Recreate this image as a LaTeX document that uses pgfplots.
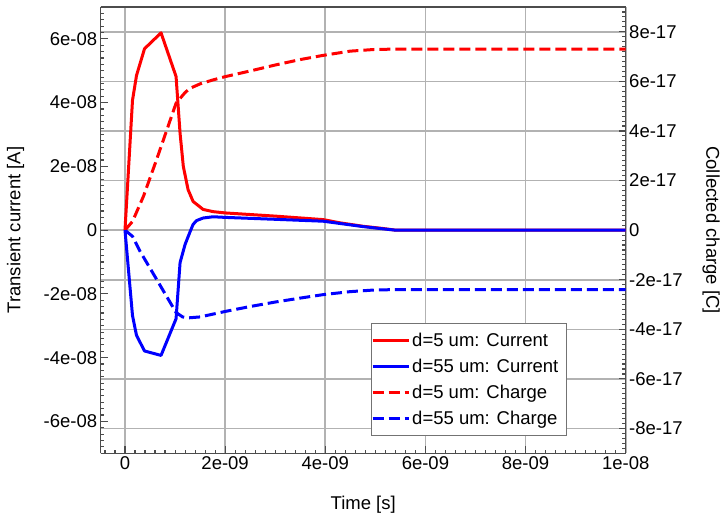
\documentclass[border=0pt]{standalone}
\usepackage{fontspec}
\setmainfont{Liberation Sans}
\usepackage{pgfplots}
\pgfplotsset{compat=1.18}
\begin{document}
\begin{tikzpicture}[font=\fontsize{18.5}{22}\selectfont]
\useasboundingbox (-100.7pt,-64.7pt) rectangle (626.3pt,453.3pt);
\pgfplotsset{
  common/.style={
    width=525pt, height=446.3pt, scale only axis,
    xmin=-0.485e-9, xmax=1e-8,
    scaled x ticks=false, scaled y ticks=false,
    axis line style={black!70, line width=1.1pt},
    tick style={black!70, line width=1.1pt},
    major tick length=7pt, minor tick length=3.5pt,
    tick align=inside, minor tick num=9,
    every tick label/.append style={font=\fontsize{18.5}{22}\selectfont},
    curve/.style={line width=3pt, line join=round},
  },
}
% Right axis: collected charge (values in C, shown in units of 1e-17 C internally)
\begin{axis}[common,
  axis y line*=right,
  y filter/.expression={y*1e17},
  ymin=-9, ymax=9,
  xtick={0,2e-9,4e-9,6e-9,8e-9,1e-8},
  xticklabels={0,2e-09,4e-09,6e-09,8e-09,1e-08},
  xtick pos=left,
  extra x ticks={-4e-10,-2e-10},
  extra x tick labels={},
  extra x tick style={major tick length=3.5pt, grid=none},
  ytick={-8,-6,-4,-2,0,2,4,6,8},
  yticklabels={-8e-17,-6e-17,-4e-17,-2e-17,0,2e-17,4e-17,6e-17,8e-17},
  extra y ticks={-9,-8.8,-8.6,-8.4,-8.2,8.2,8.4,8.6,8.8,9},
  extra y tick labels={},
  extra y tick style={major tick length=3.5pt, grid=none},
  xmajorgrids, ymajorgrids,
  grid style={black!30, line width=1.6pt},
  xlabel={Time [s]},
  ylabel={Collected charge [C]},
  every axis x label/.style={at={(axis description cs:0.5,-0.127)}, anchor=base},
  every axis y label/.style={at={(axis description cs:1.1796,0.5)}, rotate=-90, anchor=north, inner sep=0pt},
]
\addplot[curve, red, dash pattern=on 11pt off 5pt] coordinates {
(0,0) (0.15e-9,0.35e-17) (0.37e-9,1.37e-17) (0.63e-9,2.84e-17) (1.02e-9,5.12e-17)
(1.2e-9,5.55e-17) (1.3e-9,5.72e-17) (1.5e-9,5.9e-17) (1.76e-9,6.06e-17) (2.0e-9,6.19e-17)
(2.5e-9,6.42e-17) (3.0e-9,6.66e-17) (3.5e-9,6.88e-17) (3.96e-9,7.05e-17) (4.5e-9,7.22e-17)
(5.0e-9,7.29e-17) (5.4e-9,7.30e-17) (1e-8,7.30e-17)};
\addplot[curve, blue, dash pattern=on 11pt off 5pt] coordinates {
(0,0) (0.15e-9,-0.25e-17) (0.3e-9,-0.85e-17) (0.63e-9,-1.98e-17) (1.02e-9,-3.32e-17)
(1.15e-9,-3.5e-17) (1.25e-9,-3.54e-17) (1.5e-9,-3.5e-17) (2.0e-9,-3.28e-17) (2.5e-9,-3.08e-17)
(3.0e-9,-2.9e-17) (3.5e-9,-2.74e-17) (3.96e-9,-2.6e-17) (4.5e-9,-2.48e-17) (5.0e-9,-2.41e-17)
(5.4e-9,-2.4e-17) (1e-8,-2.4e-17)};
\end{axis}
% Left axis: transient current
\begin{axis}[common,
  axis y line*=left,
  axis x line=none,
  ymin=-7e-8, ymax=7e-8,
  ytick={-6e-8,-4e-8,-2e-8,0,2e-8,4e-8,6e-8},
  yticklabels={-6e-08,-4e-08,-2e-08,0,2e-08,4e-08,6e-08},
  extra y ticks={-7e-8,-6.8e-8,-6.6e-8,-6.4e-8,-6.2e-8,6.2e-8,6.4e-8,6.6e-8,6.8e-8,7e-8},
  extra y tick labels={},
  extra y tick style={major tick length=3.5pt},
  ylabel={Transient current [A]},
  every axis y label/.style={at={(axis description cs:-0.179,0.5)}, rotate=90, anchor=north, inner sep=0pt},
  legend cell align=left,
  legend image code/.code={\draw[#1] (0pt,0pt) -- (36pt,0pt);},
  legend style={at={(rel axis cs:0.888,0.039)}, anchor=south east,
    draw=black!55, line width=1pt, fill=white,
    inner xsep=0pt, inner ysep=7pt, row sep=7.3pt,
    font=\fontsize{18.5}{22}\selectfont},
]
\addplot[curve, red] coordinates {
(0,0) (0.15e-9,4.07e-8) (0.23e-9,4.85e-8) (0.39e-9,5.69e-8) (0.72e-9,6.19e-8)
(1.02e-9,4.82e-8) (1.10e-9,3.04e-8) (1.165e-9,2.0e-8) (1.26e-9,1.27e-8) (1.36e-9,0.90e-8)
(1.56e-9,0.65e-8) (1.76e-9,0.58e-8) (2.0e-9,0.54e-8) (3.0e-9,0.44e-8) (3.96e-9,0.33e-8)
(4.29e-9,0.23e-8) (4.76e-9,0.12e-8) (5.16e-9,0.05e-8) (5.4e-9,0) (1e-8,0)};
\addlegendentry{d=5 um: Current\hspace*{6pt}}
\addplot[curve, blue] coordinates {
(0,0) (0.15e-9,-2.68e-8) (0.23e-9,-3.3e-8) (0.39e-9,-3.79e-8) (0.72e-9,-3.93e-8)
(1.02e-9,-2.78e-8) (1.10e-9,-1.02e-8) (1.2e-9,-0.45e-8) (1.3e-9,-0.05e-8) (1.36e-9,0.18e-8)
(1.43e-9,0.30e-8) (1.56e-9,0.38e-8) (1.76e-9,0.42e-8) (2.0e-9,0.40e-8) (3.0e-9,0.34e-8)
(3.96e-9,0.28e-8) (4.29e-9,0.21e-8) (4.76e-9,0.11e-8) (5.16e-9,0.04e-8) (5.4e-9,0) (1e-8,0)};
\addlegendentry{d=55 um: Current\hspace*{6pt}}
\addlegendimage{curve, red, dash pattern=on 11pt off 5pt}
\addlegendentry{d=5 um: Charge\hspace*{6pt}}
\addlegendimage{curve, blue, dash pattern=on 11pt off 5pt}
\addlegendentry{d=55 um: Charge\hspace*{6pt}}
\end{axis}
\end{tikzpicture}
\end{document}
